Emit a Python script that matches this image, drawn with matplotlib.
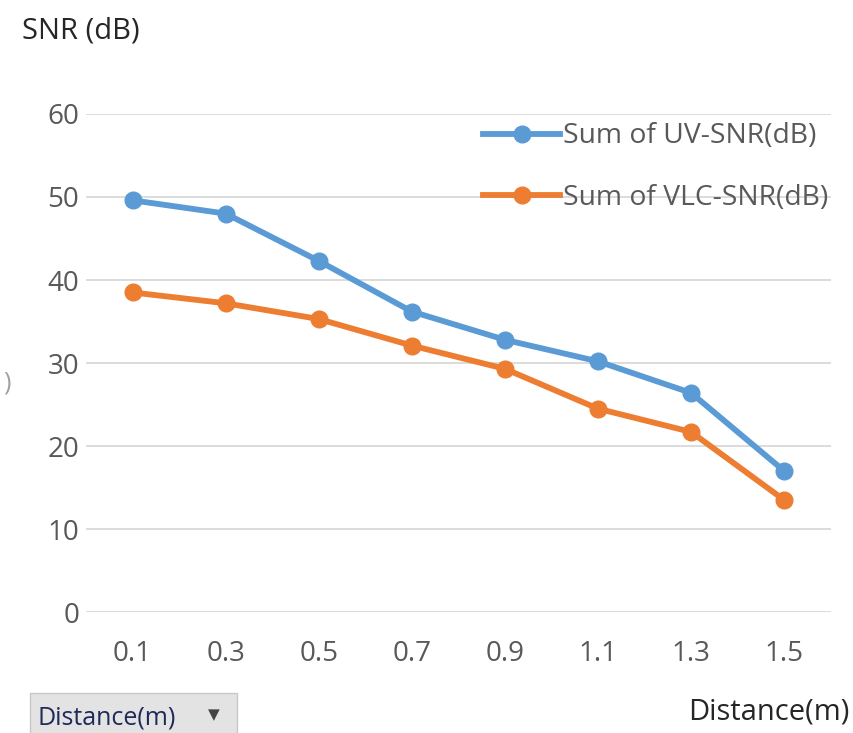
import matplotlib

matplotlib.use("Agg")
import matplotlib.pyplot as plt
from matplotlib.patches import FancyBboxPatch

plt.rcParams["font.family"] = ["Open Sans", "DejaVu Sans"]

distance = ["0.1", "0.3", "0.5", "0.7", "0.9", "1.1", "1.3", "1.5"]
uv_snr = [49.6, 48.0, 42.3, 36.2, 32.8, 30.2, 26.4, 17.0]
vlc_snr = [38.5, 37.2, 35.3, 32.1, 29.3, 24.5, 21.7, 13.5]

BLUE = "#5B9BD5"
ORANGE = "#ED7D31"
GREY = "#595959"

fig = plt.figure(figsize=(8.54, 7.33), dpi=100)
ax = fig.add_axes([0.1007, 0.165, 0.872, 0.6795])

x = range(len(distance))
ax.plot(x, uv_snr, color=BLUE, lw=4.2, marker="o", ms=12,
        label="Sum of UV-SNR(dB)")
ax.plot(x, vlc_snr, color=ORANGE, lw=4.2, marker="o", ms=12,
        label="Sum of VLC-SNR(dB)")

ax.set_xlim(-0.5, len(distance) - 0.5)
ax.set_ylim(0, 60)
ax.set_yticks(range(0, 61, 10))
ax.set_xticks(list(x), distance)
ax.grid(axis="y", color="#D9D9D9", lw=1.3)
ax.set_axisbelow(True)
for s in ax.spines.values():
    s.set_visible(False)
ax.tick_params(length=0, labelsize=20, labelcolor=GREY)
ax.tick_params(axis="y", pad=5)
ax.tick_params(axis="x", pad=20)

leg = ax.legend(loc="upper left", bbox_to_anchor=(0.533, 0.983), frameon=False,
                fontsize=20.3, handlelength=2.75, handletextpad=0.1,
                labelspacing=1.2, borderaxespad=0, borderpad=0)
for t in leg.get_texts():
    t.set_color(GREY)

fig.text(0.026, 0.958, "SNR (dB)", fontsize=21, color="#262626",
         ha="left", va="center")
fig.text(0.995, 0.029, "Distance(m)", fontsize=21, color="#262626",
         ha="right", va="center")
fig.text(0.008, 0.477, ")", fontsize=18, color="#A0A0A0",
         ha="center", va="center")

btn = FancyBboxPatch((0.035, -0.01), 0.243, 0.064, boxstyle="square,pad=0",
                     transform=fig.transFigure, facecolor="#E3E3E3",
                     edgecolor="#C8C8C8", lw=1)
fig.add_artist(btn)
fig.text(0.044, 0.021, "Distance(m)", fontsize=18, color="#1F2A5A",
         ha="left", va="center")
fig.text(0.25, 0.024, "\u25bc", fontsize=11, color="#444444",
         ha="center", va="center")

fig.savefig("out.png", dpi=100)
